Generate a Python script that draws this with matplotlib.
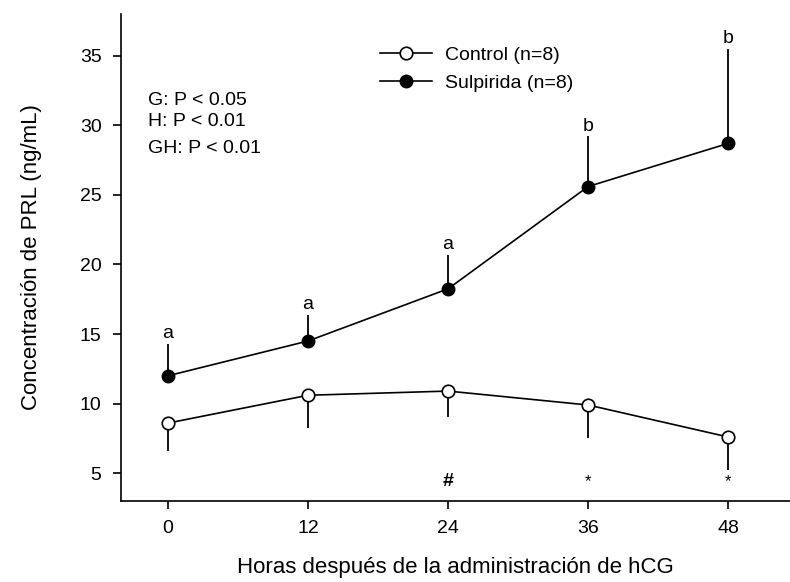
import numpy as np
import matplotlib.pyplot as plt

plt.rcParams.update({"font.family": "Liberation Sans", "font.size": 14})

# PRL concentration after hCG, mean with one-sided error
horas = [0, 12, 24, 36, 48]
control = [8.6, 10.6, 10.9, 9.9, 7.6]
control_err = [2.0, 2.35, 1.85, 2.35, 2.4]
sulpirida = [12.0, 14.5, 18.25, 25.6, 28.7]
sulpirida_err = [2.3, 1.9, 2.45, 3.6, 6.8]
letras = ["a", "a", "a", "b", "b"]
marcas = {24: "#", 36: "*", 48: "*"}

fig = plt.figure(figsize=(7.9, 5.82), dpi=100)
ax = fig.add_axes([121/790, 81/582, 1 - 121/790, 487/582])

zeros = np.zeros(len(horas))
ax.errorbar(horas, control, yerr=[control_err, zeros], fmt="none", ecolor="black",
            elinewidth=1.3, capsize=0, zorder=1)
ax.errorbar(horas, sulpirida, yerr=[zeros, sulpirida_err], fmt="none", ecolor="black",
            elinewidth=1.3, capsize=0, zorder=1)
ax.plot(horas, control, "-o", color="black", lw=1.2, markersize=9,
        markerfacecolor="white", markeredgecolor="black", markeredgewidth=1.2,
        label="Control (n=8)", zorder=3)
ax.plot(horas, sulpirida, "-o", color="black", lw=1.2, markersize=9,
        markerfacecolor="black", label="Sulpirida (n=8)", zorder=3)

# letters above the Sulpirida bars
for h, s, e, l in zip(horas, sulpirida, sulpirida_err, letras):
    ax.annotate(l, (h, s + e), xytext=(0, 1), textcoords="offset points",
                ha="center", va="bottom", fontsize=14)

for h, m in marcas.items():
    ax.text(h, 4.4, m, ha="center", va="center",
            fontsize=14 if m == "#" else 12,
            fontweight="bold" if m == "#" else "normal")

ax.text(-1.7, 31.75, "G: P < 0.05", fontsize=14, va="center")
ax.text(-1.7, 30.3, "H: P < 0.01", fontsize=14, va="center")
ax.text(-1.7, 28.35, "GH: P < 0.01", fontsize=14, va="center")

ax.set_xlim(-4.03, 53.3)
ax.set_ylim(3.0, 38.0)
ax.set_xticks(horas)
ax.set_yticks([5, 10, 15, 20, 25, 30, 35])
ax.tick_params(direction="out", length=6, width=1.2, labelsize=14, pad=8)
ax.spines["top"].set_visible(False)
ax.spines["right"].set_visible(False)
ax.spines["left"].set_linewidth(1.2)
ax.spines["bottom"].set_linewidth(1.2)

ax.set_xlabel("Horas después de la administración de hCG", fontsize=16, labelpad=14)
ax.set_ylabel("Concentración de PRL (ng/mL)", fontsize=16, labelpad=27)

ax.legend(loc="upper left", bbox_to_anchor=(0.372, 0.953), frameon=False, fontsize=14,
          handlelength=2.7, labelspacing=0.5, borderpad=0, handletextpad=0.65)

plt.savefig("out.png", dpi=100)
